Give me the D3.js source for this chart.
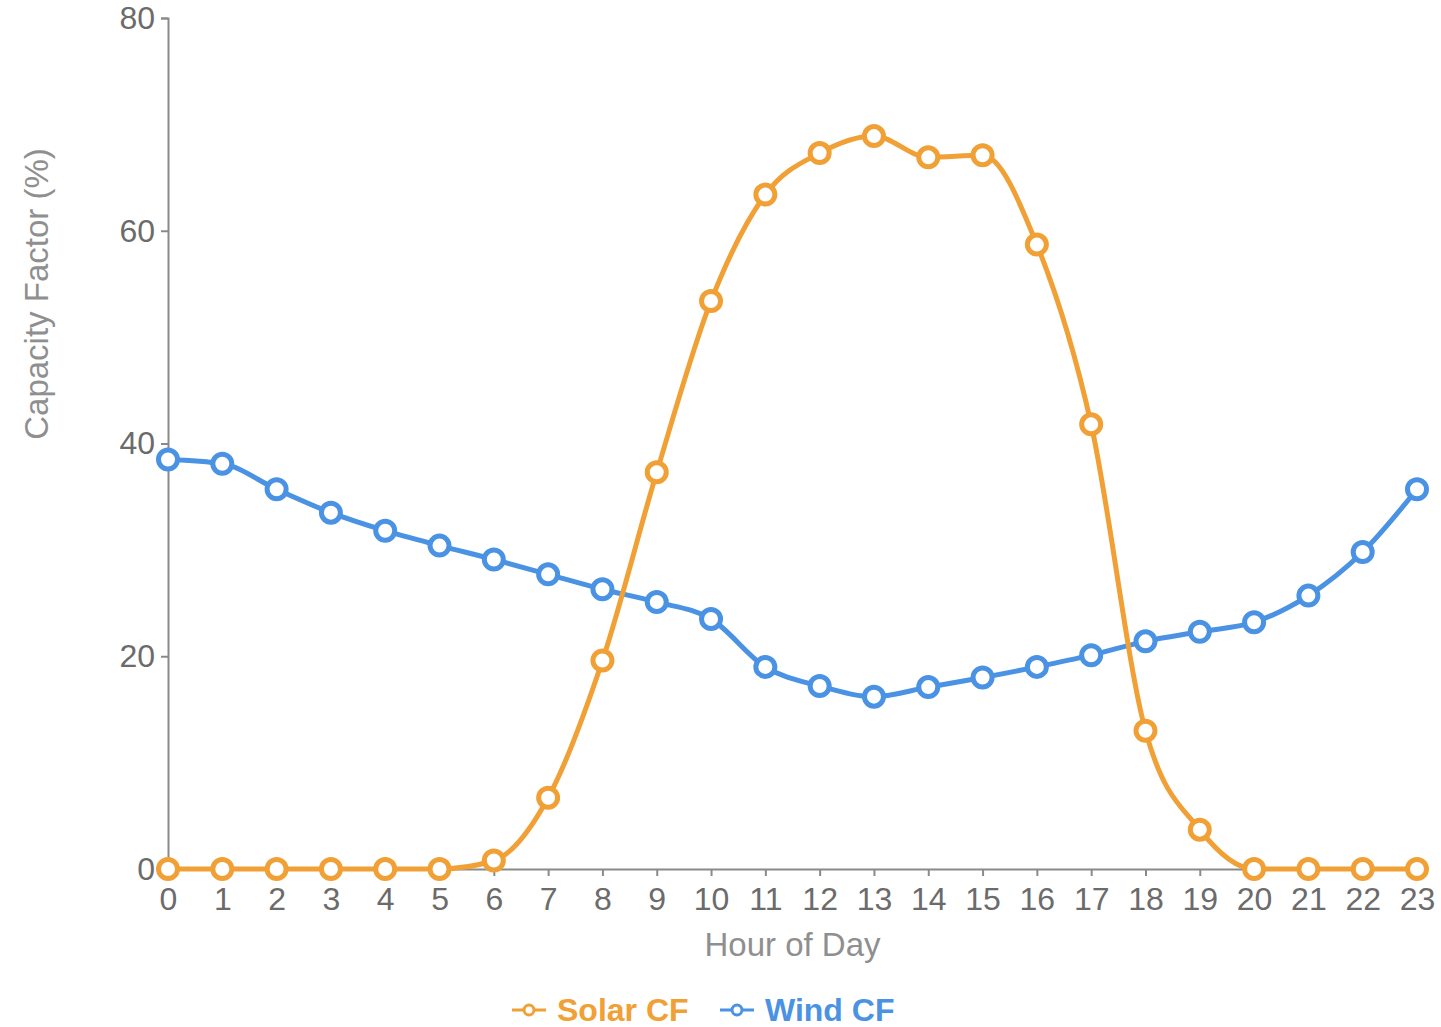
<!DOCTYPE html>
<html>
<head>
<meta charset="utf-8">
<script src="https://cdn.jsdelivr.net/npm/d3@7"></script>
<style>
  html, body { margin: 0; padding: 0; background: #fff; }
  svg { display: block; font-family: "Liberation Sans", Arial, sans-serif; }
</style>
</head>
<body>
<svg id="chart" width="1441" height="1027"></svg>
<script>
// Hourly capacity factors (%)
const hours = d3.range(0, 24);
const solarCF = [0, 0, 0, 0, 0, 0, 0.8, 6.7, 19.6, 37.3, 53.4, 63.4, 67.3, 68.9, 66.9, 67.1, 58.7, 41.8, 13.0, 3.7, 0, 0, 0, 0];
const windCF = [38.5, 38.1, 35.7, 33.5, 31.8, 30.4, 29.1, 27.7, 26.3, 25.1, 23.5, 19.0, 17.2, 16.2, 17.1, 18.0, 19.0, 20.1, 21.4, 22.3, 23.2, 25.7, 29.8, 35.7];
const yTicks = [0, 20, 40, 60, 80];
const seriesNames = ["Solar CF", "Wind CF"];
const seriesColors = ["#F0A035", "#4A92E3"];

const svg = d3.select("#chart");

const x = d3.scaleLinear().domain([0, 23]).range([168, 1417]);
const y = d3.scaleLinear().domain([0, 80]).range([869, 18]);

const axisColor = "#8a8a8a";
const textColor = "#6b6b6b";

// X axis
const gx = svg.append("g")
  .attr("transform", `translate(0,${y(0)})`)
  .call(d3.axisBottom(x).tickValues(hours).tickFormat(d3.format("d")).tickSize(7).tickSizeOuter(7).tickPadding(11));

// Y axis
const gy = svg.append("g")
  .attr("transform", `translate(${x(0)},0)`)
  .call(d3.axisLeft(y).tickValues(yTicks).tickSize(7).tickSizeOuter(7).tickPadding(6));

[gx, gy].forEach(g => {
  g.attr("font-size", null).attr("font-family", null);
  g.selectAll("path, line").attr("stroke", axisColor).attr("stroke-width", 2);
  g.selectAll("text").attr("fill", textColor).style("font-size", "32px");
});

// Axis titles
svg.append("text")
  .attr("x", (x(0) + x(23)) / 2)
  .attr("y", 956)
  .attr("text-anchor", "middle")
  .attr("fill", "#8f8f8f")
  .style("font-size", "33px")
  .text("Hour of Day");

svg.append("text")
  .attr("transform", "translate(48,294) rotate(-90)")
  .attr("text-anchor", "middle")
  .attr("fill", "#8f8f8f")
  .style("font-size", "33px")
  .text("Capacity Factor (%)");

// Series lines and markers
const series = [solarCF, windCF];
const line = d3.line()
  .x((d, i) => x(hours[i]))
  .y(d => y(d))
  .curve(d3.curveMonotoneX);

// draw wind first so solar sits above it
[1, 0].forEach(k => {
  const g = svg.append("g");
  g.append("path")
    .datum(series[k])
    .attr("fill", "none")
    .attr("stroke", seriesColors[k])
    .attr("stroke-width", 5)
    .attr("stroke-linejoin", "round")
    .attr("d", line);
  g.selectAll("circle")
    .data(series[k])
    .join("circle")
    .attr("cx", (d, i) => x(hours[i]))
    .attr("cy", d => y(d))
    .attr("r", 9.5)
    .attr("fill", "#fff")
    .attr("stroke", seriesColors[k])
    .attr("stroke-width", 5);
});

// Legend
const legendItems = [
  { name: seriesNames[0], color: seriesColors[0], x: 512 },
  { name: seriesNames[1], color: seriesColors[1], x: 720 }
];
const legend = svg.append("g").attr("transform", "translate(0,1010)");
legendItems.forEach(it => {
  const g = legend.append("g").attr("transform", `translate(${it.x},0)`);
  g.append("line").attr("x1", 0).attr("x2", 34).attr("y1", 0).attr("y2", 0)
    .attr("stroke", it.color).attr("stroke-width", 3);
  g.append("circle").attr("cx", 17).attr("cy", 0).attr("r", 5)
    .attr("fill", "#fff").attr("stroke", it.color).attr("stroke-width", 3);
  g.append("text").attr("x", 45).attr("y", 0)
    .attr("dy", "0.35em")
    .attr("fill", it.color)
    .style("font-size", "32px")
    .style("font-weight", "bold")
    .text(it.name);
});
</script>
</body>
</html>
